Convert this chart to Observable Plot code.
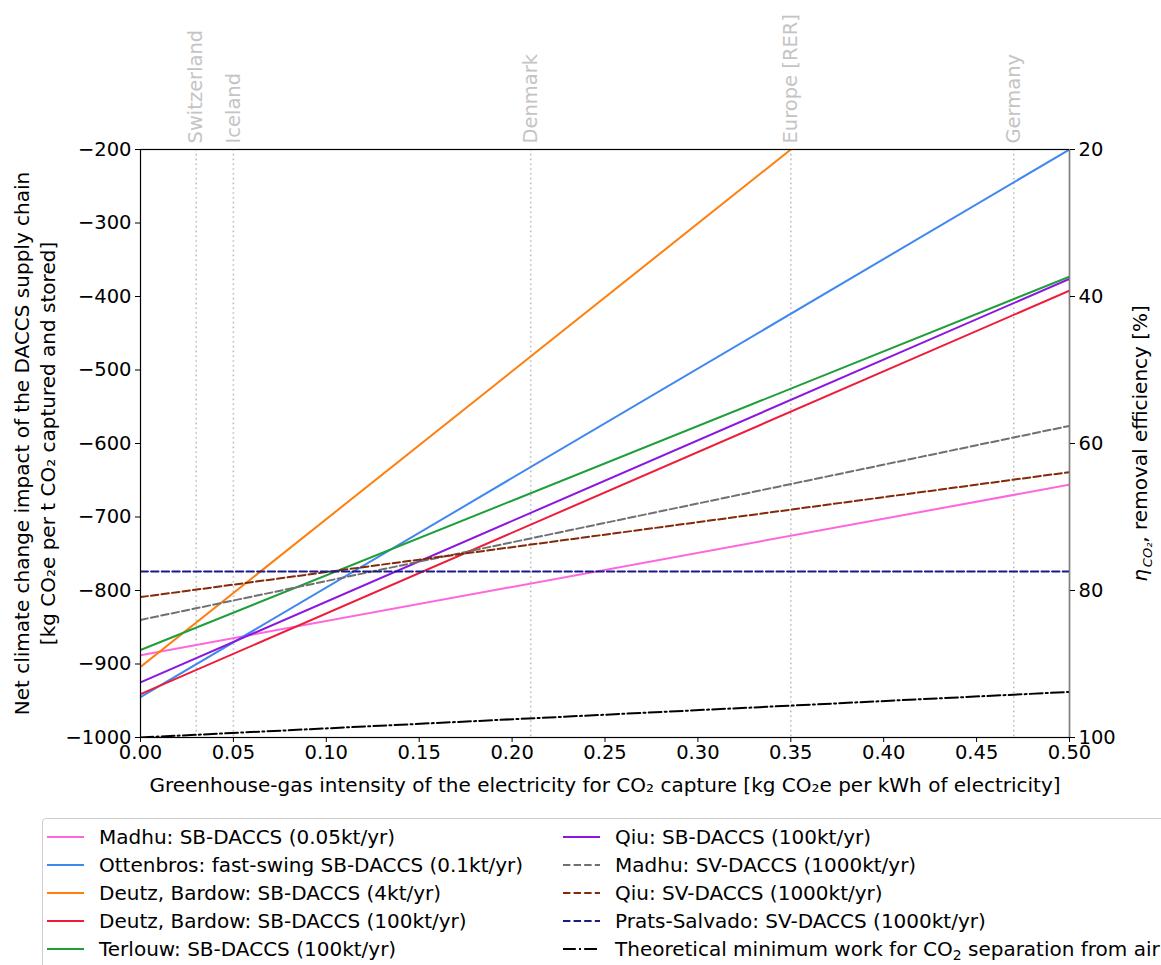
<!DOCTYPE html>
<html>
<head>
<meta charset="utf-8">
<script src="https://cdn.jsdelivr.net/npm/d3@7"></script>
<script src="https://cdn.jsdelivr.net/npm/@observablehq/plot@0.6"></script>
<style>
  html, body { margin: 0; padding: 0; background: #fff; overflow: hidden; }
  body { width: 1161px; height: 965px; font-family: "DejaVu Sans", sans-serif; }
  #chart svg { display: block; }
  #legend {
    position: absolute; left: 42px; top: 818px; width: 1160px;
    border: 1px solid #cfcfcf; border-radius: 4px; padding: 4px 0 6px 4px;
    display: grid; grid-template-columns: 516px auto; grid-auto-flow: column;
    grid-template-rows: repeat(5, 28px); font-size: 20px; color: #000;
  }
  .item { display: flex; align-items: center; white-space: nowrap; }
  .item svg { margin-right: 15px; flex: none; }
  sub { font-size: 0.7em; vertical-align: -0.25em; line-height: 0; }
</style>
</head>
<body>
<div id="chart"></div>
<div id="legend"></div>
<script>
// ---------------- data ----------------
const xTicks = [0, 0.05, 0.10, 0.15, 0.20, 0.25, 0.30, 0.35, 0.40, 0.45, 0.50];
const yTicks = [-1000, -900, -800, -700, -600, -500, -400, -300, -200];
const etaTicks = [20, 40, 60, 80, 100];

const countryNames = ["Switzerland", "Iceland", "Denmark", "Europe [RER]", "Germany"];
const countryIntensity = [0.03, 0.05, 0.21, 0.35, 0.47];

const seriesNames = [
  "Madhu: SB-DACCS (0.05kt/yr)",
  "Ottenbros: fast-swing SB-DACCS (0.1kt/yr)",
  "Deutz, Bardow: SB-DACCS (4kt/yr)",
  "Deutz, Bardow: SB-DACCS (100kt/yr)",
  "Terlouw: SB-DACCS (100kt/yr)",
  "Qiu: SB-DACCS (100kt/yr)",
  "Madhu: SV-DACCS (1000kt/yr)",
  "Qiu: SV-DACCS (1000kt/yr)",
  "Prats-Salvado: SV-DACCS (1000kt/yr)",
  "Theoretical minimum work for CO₂ separation from air"
];
const startIntensity = [0, 0, 0, 0, 0, 0, 0, 0, 0, 0];
const endIntensity   = [0.5, 0.5, 0.35, 0.5, 0.5, 0.5, 0.5, 0.5, 0.5, 0.5];
const startImpact = [-888, -945, -904, -941, -881, -925, -840, -809, -774, -1000];
const endImpact   = [-656, -200, -200, -392, -373, -376, -576, -639, -774, -938];

// ---------------- styles ----------------
const seriesColors = ["#ff66dd", "#3f88f0", "#ff7f0e", "#ee1c3a", "#1f9e3a", "#8b16e0",
                      "#707070", "#832a08", "#1a1a8a", "#000000"];
const seriesDash = [null, null, null, null, null, null, "7.4,3.2", "7.4,3.2", "7.4,3.2", "12.8,3.2,2,3.2"];

const lineData = seriesNames.map((name, i) => [
  {name, x: startIntensity[i], y: startImpact[i]},
  {name, x: endIntensity[i], y: endImpact[i]}
]);
const countries = countryNames.map((name, i) => ({name, x: countryIntensity[i]}));

const xLabel = "Greenhouse-gas intensity of the electricity for CO₂ capture [kg CO₂e per kWh of electricity]";
const yLabel = "Net climate change impact of the DACCS supply chain\n[kg CO₂e per t CO₂ captured and stored]";
const rightLabel = "ηCO₂, removal efficiency [%]";

const plot = Plot.plot({
  width: 1161,
  height: 800,
  marginTop: 149,
  marginLeft: 140,
  marginRight: 92,
  marginBottom: 63,
  style: {fontFamily: "DejaVu Sans", fontSize: "19px", color: "#000", background: "#fff"},
  x: {domain: [0, 0.5]},
  y: {domain: [-1000, -200]},
  marks: [
    Plot.ruleX(countries, {x: "x", stroke: "#bdbdbd", strokeWidth: 1.6, strokeDasharray: "1.6,3.2"}),
    Plot.text(countries, {x: "x", y: () => -200, text: "name", rotate: -90, textAnchor: "start",
      lineAnchor: "middle", dy: -6, fill: "#c4c4c4", fontSize: 19.5}),
    ...lineData.map((d, i) => Plot.line(d, {x: "x", y: "y", stroke: seriesColors[i], strokeWidth: 2,
      strokeDasharray: seriesDash[i], clip: true})),
    Plot.frame({stroke: "#000", strokeWidth: 1.2}),
    Plot.ruleX([0.5], {stroke: "#7f7f7f", strokeWidth: 1.4}),
    Plot.axisX({ticks: xTicks, tickFormat: d3.format(".2f"), tickSize: 5, tickPadding: 3, label: null, fontSize: 19.5}),
    Plot.axisY({anchor: "left", ticks: yTicks, tickFormat: d3.format("d"), tickSize: 5, tickPadding: 4, label: null, fontSize: 19.5}),
    Plot.axisY({anchor: "right", ticks: etaTicks.map(e => -10 * e), tickFormat: d => String(-d / 10),
      tickSize: 5, tickPadding: 4, label: null, fontSize: 19.5}),
    Plot.text([xLabel], {frameAnchor: "bottom", dy: 48, text: d => d, fontSize: 20, lineAnchor: "middle",
      textAnchor: "middle"}),
    Plot.text([yLabel], {frameAnchor: "left", dx: -107, text: d => d, rotate: -90, fontSize: 20,
      textAnchor: "middle", lineAnchor: "middle", lineHeight: 1.3}),
    Plot.text([rightLabel], {frameAnchor: "right", dx: 71, text: d => d, rotate: -90, fontSize: 20,
      textAnchor: "middle", lineAnchor: "middle"})
  ]
});
document.getElementById("chart").appendChild(plot);

// style the right-axis label: italic eta with subscript CO2
d3.select(plot).selectAll("text").filter(function() { return this.textContent === rightLabel; })
  .each(function() {
    const t = d3.select(this);
    t.text(null);
    t.append("tspan").attr("font-style", "italic").text("η");
    t.append("tspan").attr("font-style", "italic").attr("font-size", 13).attr("dy", 5).attr("dx", 2).text("CO₂");
    t.append("tspan").attr("dy", -5).text(", removal efficiency [%]");
  });

// legend
const legend = d3.select("#legend");
seriesNames.forEach((name, i) => {
  const item = legend.append("div").attr("class", "item");
  const sw = item.append("svg").attr("width", 37).attr("height", 10);
  sw.append("line").attr("x1", 0).attr("x2", 37).attr("y1", 5).attr("y2", 5)
    .attr("stroke", seriesColors[i]).attr("stroke-width", 2)
    .attr("stroke-dasharray", seriesDash[i]);
  item.append("span").html(name.replace("₂", "<sub>2</sub>"));
});
</script>
</body>
</html>
